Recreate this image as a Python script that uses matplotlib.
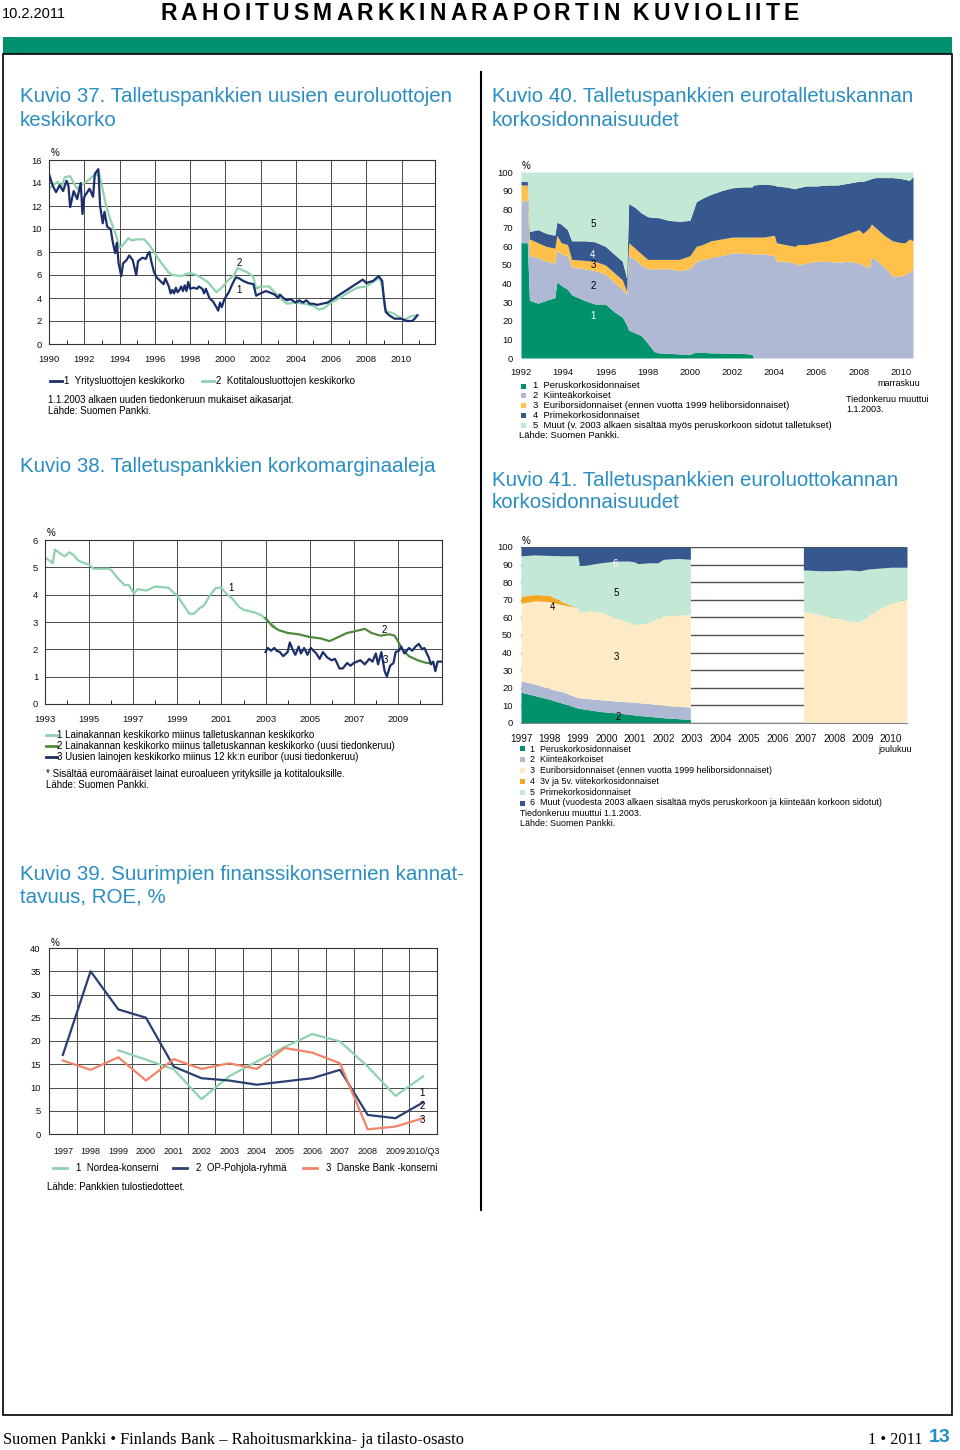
import numpy as np
import matplotlib
matplotlib.use("Agg")
import matplotlib.pyplot as plt
from matplotlib.lines import Line2D
from matplotlib.patches import Rectangle

plt.rcParams['font.family'] = ['Liberation Sans', 'DejaVu Sans']

# ---------------- data ----------------
# Kuvio 37: uusien euroluottojen keskikorko, % (vuosi, arvo)
k37_yritys = [(1990.0, 14.8), (1990.2, 13.8), (1990.4, 13.2), (1990.6, 13.8), (1990.8, 13.3),
              (1991.0, 14.2), (1991.1, 13.8), (1991.2, 11.9), (1991.4, 13.3), (1991.6, 12.6),
              (1991.8, 14.0), (1991.9, 11.3), (1992.0, 12.8), (1992.3, 13.5), (1992.5, 12.8),
              (1992.6, 14.8), (1992.8, 15.2), (1992.9, 12.0), (1993.05, 10.5), (1993.15, 11.5),
              (1993.3, 10.2), (1993.5, 10.0), (1993.6, 9.0), (1993.75, 7.9), (1993.85, 8.8),
              (1993.95, 7.0), (1994.1, 5.9), (1994.2, 7.0), (1994.4, 7.3), (1994.55, 7.7),
              (1994.75, 7.3), (1994.95, 6.0), (1995.05, 7.2), (1995.3, 7.5), (1995.5, 7.4),
              (1995.6, 7.8), (1995.7, 8.0), (1995.8, 7.2), (1995.95, 6.3), (1996.1, 5.8),
              (1996.3, 5.5), (1996.5, 5.2), (1996.6, 5.7), (1996.8, 5.0), (1996.9, 4.4),
              (1997.0, 4.7), (1997.1, 4.4), (1997.2, 4.9), (1997.3, 4.5), (1997.4, 4.7),
              (1997.5, 5.0), (1997.6, 4.6), (1997.7, 5.1), (1997.8, 4.6), (1997.9, 5.4),
              (1998.0, 4.8), (1998.2, 4.9), (1998.4, 4.8), (1998.5, 5.0), (1998.7, 4.8),
              (1998.8, 4.4), (1998.9, 4.8), (1999.1, 4.0), (1999.3, 3.7), (1999.5, 3.2),
              (1999.6, 2.9), (1999.7, 3.6), (1999.8, 3.2), (1999.95, 3.9), (2000.2, 4.5),
              (2000.4, 5.2), (2000.6, 5.8), (2000.8, 5.7), (2001.0, 5.5), (2001.3, 5.3),
              (2001.6, 5.2), (2001.75, 4.2), (2002.0, 4.4), (2002.3, 4.6), (2002.5, 4.5),
              (2002.8, 4.3), (2003.0, 4.0), (2003.1, 4.3), (2003.3, 4.0), (2003.5, 3.8),
              (2003.7, 3.9), (2004.0, 3.6), (2004.2, 3.8), (2004.4, 3.6), (2004.6, 3.8),
              (2004.8, 3.5), (2005.0, 3.5), (2005.2, 3.4), (2005.5, 3.5), (2005.8, 3.6),
              (2006.0, 3.8), (2006.5, 4.3), (2007.0, 4.8), (2007.5, 5.3), (2007.8, 5.6),
              (2008.0, 5.3), (2008.4, 5.5), (2008.7, 5.9), (2008.9, 5.5), (2009.0, 4.0),
              (2009.1, 2.8), (2009.3, 2.5), (2009.6, 2.2), (2010.0, 2.2), (2010.3, 2.0),
              (2010.6, 2.0), (2010.75, 2.2), (2010.9, 2.5)]
k37_kotitalous = [(1990.0, 13.5), (1990.3, 13.9), (1990.5, 14.1), (1990.7, 13.6), (1990.9, 14.5),
                  (1991.2, 14.6), (1991.4, 14.0), (1991.6, 13.5), (1991.9, 13.9), (1992.2, 14.2),
                  (1992.5, 14.6), (1992.7, 14.7), (1992.85, 14.8), (1993.0, 13.8), (1993.2, 12.3),
                  (1993.4, 11.2), (1993.6, 10.3), (1993.8, 9.5), (1994.0, 8.4), (1994.2, 8.6),
                  (1994.5, 9.2), (1994.7, 9.0), (1995.0, 9.1), (1995.4, 9.1), (1995.7, 8.6),
                  (1996.0, 7.9), (1996.2, 7.4), (1996.5, 6.8), (1996.8, 6.2), (1997.0, 6.0),
                  (1997.5, 5.9), (1998.0, 6.2), (1998.5, 5.9), (1999.0, 5.4), (1999.5, 4.5),
                  (1999.8, 4.9), (2000.2, 5.6), (2000.5, 6.0), (2000.7, 6.6), (2001.0, 6.4),
                  (2001.3, 6.2), (2001.6, 5.8), (2001.75, 4.8), (2002.0, 5.0), (2002.5, 5.0),
                  (2002.8, 4.5), (2003.2, 3.9), (2003.5, 3.5), (2004.0, 3.6), (2004.5, 3.5),
                  (2005.0, 3.3), (2005.3, 3.0), (2005.6, 3.1), (2006.0, 3.6), (2006.5, 4.0),
                  (2007.0, 4.5), (2007.5, 4.9), (2008.0, 5.0), (2008.5, 5.5), (2008.75, 5.8),
                  (2008.9, 5.0), (2009.05, 3.2), (2009.2, 2.8), (2009.5, 2.7), (2009.8, 2.4),
                  (2010.2, 2.1), (2010.5, 2.4), (2010.9, 2.5)]

# Kuvio 40: eurotalletuskannan korkosidonnaisuudet, kumulatiiviset ylärajat, %
k40_vuodet = [1992.0, 1992.3, 1992.4, 1992.8, 1993.2, 1993.6, 1993.7, 1993.9, 1994.2, 1994.4,
              1995.0, 1995.5, 1996.0, 1996.4, 1996.8, 1997.0, 1997.1, 1997.4, 1997.7, 1998.0,
              1998.3, 1998.5, 1999.0, 1999.5, 2000.0, 2000.3, 2000.6, 2001.0, 2001.5, 2002.0,
              2002.5, 2002.95, 2003.0, 2003.5, 2004.0, 2004.1, 2004.5, 2005.0, 2005.1, 2005.5,
              2006.0, 2006.5, 2007.0, 2007.5, 2008.0, 2008.2, 2008.5, 2008.6, 2008.8, 2009.2,
              2009.6, 2010.0, 2010.2, 2010.4, 2010.57]
k40_raja_1 = [62, 62, 31, 29.5, 31, 32.5, 41, 39, 37, 34,
              31, 29, 29, 25, 22, 18, 15, 13.5, 12, 8,
              3.5, 2.8, 2.5, 2.2, 2.0, 3.2, 3.0, 2.8, 2.7, 2.5,
              2.5, 2.0, 0, 0, 0, 0, 0, 0, 0, 0,
              0, 0, 0, 0, 0, 0, 0, 0, 0, 0,
              0, 0, 0, 0, 0]
k40_raja_2 = [84, 85, 55, 54, 52, 51, 58, 56, 55, 49,
              48, 47, 45, 41, 37, 34, 55, 53, 50, 48,
              48, 48, 48, 47, 48, 52, 53, 54, 55, 56.5,
              56.5, 56, 56, 56, 55, 52, 52, 51, 50, 51,
              52, 52, 51.5, 52, 51, 50, 48.5, 54, 53, 49,
              44, 44, 45, 46, 48]
k40_raja_3 = [93, 93, 64, 62, 60, 59, 66, 62, 61, 53,
              52.5, 52, 50, 46, 42, 36, 62, 59, 56, 53,
              53, 53, 53, 53, 55, 60, 61, 63, 64, 65,
              65, 65, 65, 65, 66, 62, 61, 60, 61, 61,
              62, 63, 65, 67, 69, 67, 70, 72, 70, 66,
              63, 62, 62, 64, 63]
k40_raja_4 = [95, 95, 68, 69, 67, 66, 73, 72, 69, 63,
              63, 62.5, 60, 56, 52, 43, 83, 81, 78, 76,
              75.5, 75.5, 74, 73.5, 74, 84, 86, 88, 90, 91.5,
              92, 92, 93, 93.5, 93, 92.5, 92, 91, 91.5, 92.5,
              92.5, 93, 93, 94, 95, 95, 96, 96.5, 97, 97,
              97, 96.5, 96, 95.5, 97.5]
k40_nimet = ['1  Peruskorkosidonnaiset', '2  Kiinteäkorkoiset',
             '3  Euriborsidonnaiset (ennen vuotta 1999 heliborsidonnaiset)',
             '4  Primekorkosidonnaiset',
             '5  Muut (v. 2003 alkaen sisältää myös peruskorkoon sidotut talletukset)']

# Kuvio 38: korkomarginaalit, % (vuosi, arvo)
k38_marginaali_1 = [(1993.0, 5.35), (1993.2, 5.25), (1993.35, 5.15), (1993.45, 5.65), (1993.7, 5.5),
                    (1993.9, 5.4), (1994.1, 5.55), (1994.3, 5.45), (1994.5, 5.25), (1994.8, 5.15),
                    (1995.0, 5.1), (1995.2, 4.95), (1995.9, 4.95), (1996.0, 4.9), (1996.3, 4.6),
                    (1996.6, 4.35), (1996.8, 4.35), (1996.95, 4.15), (1997.05, 4.05), (1997.2, 4.2),
                    (1997.6, 4.15), (1998.0, 4.3), (1998.6, 4.25), (1998.8, 4.1), (1999.0, 3.95),
                    (1999.3, 3.6), (1999.55, 3.3), (1999.75, 3.3), (2000.0, 3.5), (2000.2, 3.6),
                    (2000.5, 4.0), (2000.75, 4.25), (2001.0, 4.25), (2001.2, 4.05), (2001.5, 3.85),
                    (2001.8, 3.55), (2002.0, 3.45), (2002.5, 3.35), (2002.8, 3.25), (2003.0, 3.1),
                    (2003.4, 2.85)]
k38_marginaali_2 = [(2003.0, 3.15), (2003.3, 2.85), (2003.6, 2.7), (2004.0, 2.6), (2004.5, 2.55),
                    (2005.0, 2.45), (2005.5, 2.4), (2005.9, 2.3), (2006.3, 2.45), (2006.7, 2.6),
                    (2007.0, 2.65), (2007.5, 2.75), (2007.8, 2.6), (2008.2, 2.5), (2008.6, 2.55),
                    (2008.85, 2.5), (2009.0, 2.3), (2009.2, 2.0), (2009.5, 1.75), (2009.9, 1.6),
                    (2010.3, 1.5), (2010.6, 1.5)]
k38_marginaali_3 = [(2003.0, 1.9), (2003.1, 2.05), (2003.25, 1.95), (2003.4, 2.05), (2003.5, 1.95),
                    (2003.65, 1.9), (2003.8, 1.75), (2004.0, 1.9), (2004.1, 2.25), (2004.25, 1.95),
                    (2004.35, 1.8), (2004.5, 2.1), (2004.6, 1.85), (2004.75, 2.05), (2004.9, 1.8),
                    (2005.05, 2.05), (2005.3, 1.85), (2005.45, 1.65), (2005.6, 1.9), (2005.8, 1.7),
                    (2006.0, 1.6), (2006.15, 1.65), (2006.35, 1.3), (2006.5, 1.3), (2006.7, 1.5),
                    (2006.85, 1.4), (2007.0, 1.5), (2007.3, 1.6), (2007.5, 1.45), (2007.7, 1.65),
                    (2007.85, 1.55), (2008.0, 1.85), (2008.1, 1.45), (2008.25, 1.9), (2008.4, 1.2),
                    (2008.5, 1.0), (2008.65, 1.4), (2008.8, 1.5), (2008.9, 1.9), (2009.05, 1.95),
                    (2009.15, 2.1), (2009.3, 1.85), (2009.5, 2.05), (2009.65, 1.95), (2009.8, 2.1),
                    (2009.95, 2.2), (2010.1, 2.0), (2010.2, 2.05), (2010.4, 1.7), (2010.5, 1.45),
                    (2010.6, 1.55), (2010.7, 1.2), (2010.8, 1.55), (2010.95, 1.55)]

# Kuvio 41: euroluottokannan korkosidonnaisuudet, kumulatiiviset ylärajat, %
k41_vuodet_a = [1997.0, 1997.5, 1998.0, 1998.5, 1998.9, 1999.0, 1999.05, 1999.4, 1999.8, 2000.3,
                2000.8, 2001.0, 2001.1, 2001.5, 2001.8, 2002.0, 2002.5, 2002.95]
k41_a_raja_1 = [17.5, 15.5, 13.5, 11, 9, 8.5, 8.3, 7.5, 6.5, 5.8, 5, 4.5, 4.3, 3.8, 3.3, 3, 2.5, 2]
k41_a_raja_2 = [24, 22, 19.5, 17.5, 15, 14.5, 14.3, 13.8, 13.2, 12.5, 12, 11.8, 11.6, 11, 10.3, 10, 9.5, 9]
k41_a_raja_3 = [68, 69.5, 69, 67, 65.8, 65.5, 62.5, 64, 63, 60, 57, 56, 56, 57, 59.5, 61, 61, 62]
k41_a_raja_4 = [72, 73, 72.5, 68.5, 66, 65.5, 62.5, 64, 63, 60, 57, 56, 56, 57, 59.5, 61, 61, 62]
k41_a_raja_5 = [95, 95.5, 95.2, 95, 95, 95, 89.5, 90, 91, 92, 92, 91.5, 90.5, 91, 91, 93, 93.5, 93]
k41_vuodet_b = [2006.92, 2007.5, 2008.0, 2008.5, 2008.9, 2009.2, 2009.6, 2010.0, 2010.56]
k41_b_raja_3 = [63.5, 61.5, 60, 58, 57.5, 61, 65, 68, 70.5]
k41_b_raja_5 = [87, 86.5, 86.5, 87, 86.5, 87.5, 88, 88.5, 88.5]
k41_nimet = ['1  Peruskorkosidonnaiset', '2  Kiinteäkorkoiset',
             '3  Euriborsidonnaiset (ennen vuotta 1999 heliborsidonnaiset)',
             '4  3v ja 5v. viitekorkosidonnaiset', '5  Primekorkosidonnaiset',
             '6  Muut (vuodesta 2003 alkaen sisältää myös peruskorkoon ja kiinteään korkoon sidotut)']

# Kuvio 39: ROE, %
k39_vuodet = ['1997', '1998', '1999', '2000', '2001', '2002', '2003', '2004', '2005',
              '2006', '2007', '2008', '2009', '2010/Q3']
k39_nordea = [np.nan, np.nan, 18.0, 16.0, 13.9, 7.5, 12.4, 15.6, 18.7, 21.5, 19.9, 14.5, 8.2, 12.4]
k39_op = [17.0, 35.0, 26.8, 25.0, 14.5, 12.0, 11.5, 10.6, 11.3, 12.0, 13.8, 4.1, 3.4, 6.8]
k39_danske = [15.8, 13.8, 16.5, 11.5, 16.1, 14.0, 15.2, 14.0, 18.5, 17.5, 15.2, 1.0, 1.6, 3.4]

# ---------------- colours ----------------
OTSIKKO = '#2A8DC2'
VIHREA = '#00936B'
HARMAA = '#AFB9D3'
KELTAINEN = '#FFC14A'
TUMMA = '#37588E'
MINTTU = '#C3E8D5'
KERMA = '#FDEBC6'
ORANSSI = '#F5A623'
LAIVASTO = '#1C2F6A'
VAALEA = '#8ED2B0'
OLIIVI = '#4F8A3C'
LOHI = '#F08468'
GRID = '#4a4a4a'

W, H = 960, 1450
fig = plt.figure(figsize=(W / 100, H / 100), dpi=100)


def fx(x):
    return x / W


def fy(y):
    return 1 - y / H


def text(x, y, s, size=7, **kw):
    kw.setdefault('va', 'center')
    kw.setdefault('ha', 'left')
    return fig.text(fx(x), fy(y), s, fontsize=size, **kw)


def line_px(xs, ys, **kw):
    fig.add_artist(Line2D([fx(v) for v in xs], [fy(v) for v in ys],
                          transform=fig.transFigure, **kw))


def square_px(x, y, color, s=6):
    fig.add_artist(Rectangle((fx(x), fy(y + s / 2)), s / W, s / H,
                             transform=fig.transFigure, color=color, lw=0))


def axes_px(l, t, r, b):
    return fig.add_axes([fx(l), fy(b), (r - l) / W, (b - t) / H])


def grid_style(ax):
    for s in ax.spines.values():
        s.set_color('#333333')
        s.set_linewidth(0.8)
    ax.grid(True, which='major', color=GRID, linewidth=0.7)
    ax.set_axisbelow(True)
    ax.tick_params(which='major', length=0, labelsize=6.8, colors='#111111')


def xy(pairs):
    return [p[0] for p in pairs], [p[1] for p in pairs]


TS = 14.8  # otsikoiden koko

# ---------------- page ----------------
text(2, 14, '10.2.2011', size=10.5)
# harvennettu otsikko: kirjain kerrallaan
renderer = fig.canvas.get_renderer()
xpos = 160
for ch in 'RAHOITUSMARKKINARAPORTIN KUVIOLIITE':
    if ch == ' ':
        xpos += 9
        continue
    t = text(xpos, 13, ch, size=16.5, weight='bold')
    xpos += t.get_window_extent(renderer).width + 4.2

fig.add_artist(Rectangle((fx(3), fy(54)), 949 / W, 17 / H, transform=fig.transFigure,
                         color='#00916E', lw=0))
fig.add_artist(Rectangle((fx(3), fy(1415)), 949 / W, 1361 / H, transform=fig.transFigure,
                         fill=False, edgecolor='black', lw=1.2))
line_px([481, 481], [72, 1210], color='black', lw=1.5)

text(20, 97, 'Kuvio 37. Talletuspankkien uusien euroluottojen', size=TS, color=OTSIKKO)
text(20, 120, 'keskikorko', size=TS, color=OTSIKKO)
text(492, 97, 'Kuvio 40. Talletuspankkien eurotalletuskannan', size=TS, color=OTSIKKO)
text(492, 120, 'korkosidonnaisuudet', size=TS, color=OTSIKKO)
text(20, 466, 'Kuvio 38. Talletuspankkien korkomarginaaleja', size=TS, color=OTSIKKO)
text(492, 480, 'Kuvio 41. Talletuspankkien euroluottokannan', size=TS, color=OTSIKKO)
text(492, 503, 'korkosidonnaisuudet', size=TS, color=OTSIKKO)
text(20, 874, 'Kuvio 39. Suurimpien finanssikonsernien kannat-', size=TS, color=OTSIKKO)
text(20, 897, 'tavuus, ROE, %', size=TS, color=OTSIKKO)

# ---------------- Kuvio 37 ----------------
ax = axes_px(49, 160, 435, 344)
grid_style(ax)
ax.plot(*xy(k37_kotitalous), color=VAALEA, lw=1.6)
ax.plot(*xy(k37_yritys), color=LAIVASTO, lw=1.6)
ax.set_xlim(1990, 2011.9)
ax.set_ylim(0, 16)
ax.set_yticks(range(0, 17, 2))
ax.set_xticks(range(1990, 2011, 2))
ax.set_xticks(range(1991, 2012, 2), minor=True)
ax.tick_params(axis='x', which='minor', length=3, direction='in')
ax.tick_params(axis='x', which='major', pad=8)
ax.tick_params(axis='y', pad=5)
ax.text(2000.78, 7.05, '2', fontsize=7, ha='center', va='center')
ax.text(2000.78, 4.7, '1', fontsize=7, ha='center', va='center')
text(51, 153, '%', size=7)
line_px([50, 62], [381, 381], color=LAIVASTO, lw=2)
text(64, 381, '1  Yritysluottojen keskikorko')
line_px([202, 214], [381, 381], color=VAALEA, lw=2)
text(216, 381, '2  Kotitalousluottojen keskikorko')
text(48, 400, '1.1.2003 alkaen uuden tiedonkeruun mukaiset aikasarjat.')
text(48, 411, 'Lähde: Suomen Pankki.')

# ---------------- Kuvio 40 ----------------
ax = axes_px(521, 172, 913, 358)
rajat40 = [np.zeros(len(k40_vuodet)), k40_raja_1, k40_raja_2, k40_raja_3, k40_raja_4,
           np.full(len(k40_vuodet), 100.0)]
varit40 = [VIHREA, HARMAA, KELTAINEN, TUMMA, MINTTU]
for i, c in enumerate(varit40):
    ax.fill_between(k40_vuodet, rajat40[i], rajat40[i + 1], color=c, lw=0)
ax.set_xlim(1992, 2010.57)
ax.set_ylim(0, 100)
ax.set_yticks(range(0, 101, 10))
ax.set_xticks(range(1992, 2011, 2))
for s in ax.spines.values():
    s.set_visible(False)
ax.tick_params(length=0, labelsize=6.8, colors='#111111')
ax.tick_params(axis='x', pad=7)
ax.tick_params(axis='y', pad=6)
for lab, yy, col in [('5', 72, 'black'), ('4', 55.4, 'white'), ('3', 50, 'black'),
                     ('2', 38.7, 'black'), ('1', 22.6, 'white')]:
    ax.text(1995.41, yy, lab, fontsize=7, ha='center', va='center', color=col)
text(522, 166, '%', size=7)
for i, (nimi, c) in enumerate(zip(k40_nimet, varit40)):
    yy = 386 + i * 9.8
    square_px(521, yy, c, s=5)
    text(533, yy, nimi, size=6.8)
text(519, 435, 'Lähde: Suomen Pankki.', size=6.8)
text(920, 383, 'marraskuu', size=6.5, ha='right')
text(846, 400, 'Tiedonkeruu muuttui', size=6.5)
text(846, 410, '1.1.2003.', size=6.5)

# ---------------- Kuvio 38 ----------------
ax = axes_px(45, 540, 442, 704)
grid_style(ax)
ax.plot(*xy(k38_marginaali_1), color=VAALEA, lw=1.6)
ax.plot(*xy(k38_marginaali_2), color=OLIIVI, lw=1.6)
ax.plot(*xy(k38_marginaali_3), color=LAIVASTO, lw=1.6)
ax.set_xlim(1993, 2011)
ax.set_ylim(0, 6)
ax.set_yticks(range(0, 7))
ax.set_xticks(range(1993, 2010, 2))
ax.set_xticks(range(1994, 2011, 2), minor=True)
ax.tick_params(axis='x', which='minor', length=3, direction='in')
ax.tick_params(axis='x', which='major', pad=8)
ax.tick_params(axis='y', pad=5)
ax.text(2001.42, 4.23, '1', fontsize=7, ha='center', va='center')
ax.text(2008.38, 2.7, '2', fontsize=7, ha='center', va='center')
ax.text(2008.43, 1.6, '3', fontsize=7, ha='center', va='center')
text(47, 533, '%', size=7)
nimet38 = ['1 Lainakannan keskikorko miinus talletuskannan keskikorko',
           '2 Lainakannan keskikorko miinus talletuskannan keskikorko (uusi tiedonkeruu)',
           '3 Uusien lainojen keskikorko miinus 12 kk:n euribor (uusi tiedonkeruu)']
for i, (nimi, c) in enumerate(zip(nimet38, [VAALEA, OLIIVI, LAIVASTO])):
    yy = 735 + i * 11
    line_px([46, 57], [yy, yy], color=c, lw=2)
    text(57, yy, nimi)
text(46, 774, '* Sisältää euromääräiset lainat euroalueen yrityksille ja kotitalouksille.')
text(46, 785, 'Lähde: Suomen Pankki.')

# ---------------- Kuvio 41 ----------------
ax = axes_px(521, 547, 907, 723)
rajat41a = [np.zeros(len(k41_vuodet_a)), k41_a_raja_1, k41_a_raja_2, k41_a_raja_3,
            k41_a_raja_4, k41_a_raja_5, np.full(len(k41_vuodet_a), 100.0)]
varit41 = [VIHREA, HARMAA, KERMA, ORANSSI, MINTTU, TUMMA]
for i, c in enumerate(varit41):
    ax.fill_between(k41_vuodet_a, rajat41a[i], rajat41a[i + 1], color=c, lw=0, zorder=2)
rajat41b = [np.zeros(len(k41_vuodet_b)), k41_b_raja_3, k41_b_raja_5,
            np.full(len(k41_vuodet_b), 100.0)]
for i, c in enumerate([KERMA, MINTTU, TUMMA]):
    ax.fill_between(k41_vuodet_b, rajat41b[i], rajat41b[i + 1], color=c, lw=0, zorder=2)
ax.set_xlim(1997, 2010.56)
ax.set_ylim(0, 100)
ax.set_yticks(range(0, 101, 10))
ax.set_xticks(range(1997, 2011))
ax.grid(True, axis='y', color='#505050', lw=1.0, zorder=0)
ax.set_axisbelow(True)
for k, s in ax.spines.items():
    s.set_visible(k == 'bottom')
ax.spines['bottom'].set_color('#888888')
ax.tick_params(length=0, labelsize=7.2, colors='#111111')
ax.tick_params(axis='x', pad=8)
ax.tick_params(axis='y', pad=6, labelsize=6.8)
for lab, xx, yy, col in [('6', 2000.3, 90.3, 'white'), ('5', 2000.35, 73.9, 'black'),
                         ('4', 1998.1, 65.9, 'black'), ('3', 2000.35, 37.5, 'black'),
                         ('2', 2000.4, 3.4, 'black')]:
    ax.text(xx, yy, lab, fontsize=7, ha='center', va='center', color=col, zorder=5)
text(522, 541, '%', size=7)
for i, (nimi, c) in enumerate(zip(k41_nimet, varit41)):
    yy = 749 + i * 10.8
    square_px(520, yy, c, s=5)
    text(530, yy, nimi, size=6.4)
text(520, 814, 'Tiedonkeruu muuttui 1.1.2003.', size=6.4)
text(520, 824, 'Lähde: Suomen Pankki.', size=6.4)
text(912, 749, 'joulukuu', size=6.4, ha='right')

# ---------------- Kuvio 39 ----------------
ax = axes_px(49, 948, 437, 1134)
for s in ax.spines.values():
    s.set_color('#333333')
    s.set_linewidth(0.8)
x39 = np.arange(len(k39_vuodet))
ax.plot(x39, k39_nordea, color=VAALEA, lw=1.6)
ax.plot(x39, k39_op, color='#2B3F73', lw=1.6)
ax.plot(x39, k39_danske, color=LOHI, lw=1.6)
ax.set_xlim(-0.5, len(k39_vuodet) - 0.5)
ax.set_ylim(0, 40)
ax.set_yticks(range(0, 41, 5))
ax.set_xticks(x39)
ax.set_xticklabels(k39_vuodet)
ax.set_xticks(x39[:-1] + 0.5, minor=True)
ax.grid(True, axis='y', which='major', color=GRID, lw=0.7)
ax.grid(True, axis='x', which='minor', color=GRID, lw=0.7)
ax.set_axisbelow(True)
ax.tick_params(which='both', length=0, labelsize=6.5, colors='#111111')
ax.tick_params(axis='x', pad=9)
ax.tick_params(axis='y', pad=6, labelsize=6.8)
for lab, yy in [('1', 8.8), ('2', 6.0), ('3', 3.0)]:
    ax.text(12.97, yy, lab, fontsize=7, ha='center', va='center')
text(51, 943, '%', size=7)
for x0, nimi, c in [(53, '1  Nordea-konserni', VAALEA), (173, '2  OP-Pohjola-ryhmä', '#2B3F73'),
                    (303, '3  Danske Bank -konserni', LOHI)]:
    line_px([x0, x0 + 14], [1168, 1168], color=c, lw=2)
    text(x0 + 23, 1168, nimi)
text(47, 1187, 'Lähde: Pankkien tulostiedotteet.')

# ---------------- footer ----------------
text(3, 1440, 'Suomen Pankki \u2022 Finlands Bank \u2013 Rahoitusmarkkina- ja tilasto-osasto',
     size=11.8, family='Liberation Serif')
text(922, 1440, '1 \u2022 2011', size=11.8, family='Liberation Serif', ha='right')
text(929, 1438, '13', size=14, weight='bold', color='#1F8FC9')

fig.savefig('out.png', dpi=100)
